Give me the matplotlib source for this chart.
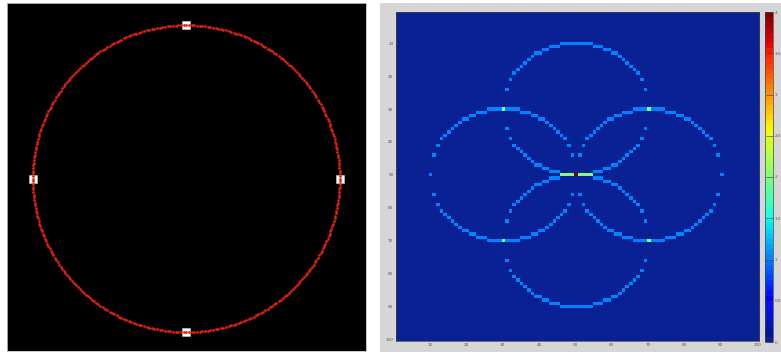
import numpy as np
import matplotlib
matplotlib.use("Agg")
import matplotlib.pyplot as plt
from matplotlib.colors import ListedColormap
from matplotlib.patches import Rectangle

# edge points found on the circle (column, row) and the search radius
edge_x = [50, 30, 70, 50]
edge_y = [30, 50, 50, 70]
radius = 20
grid_size = 100

cbar_ticks = [0, 0.5, 1, 1.5, 2, 2.5, 3, 3.5, 4]
axis_ticks = [10, 20, 30, 40, 50, 60, 70, 80, 90, 100]


def hough_circle(xs, ys, r, n):
    """Vote for circle centres: each edge point draws a ring of radius r"""
    acc = np.zeros((n, n))
    for px, py in zip(xs, ys):
        for a in range(px - r, px + r + 1):
            d = np.floor(np.sqrt(r ** 2 - (a - px) ** 2) + 0.5)
            for b in {int(py - d), int(py + d)}:
                if 1 <= a <= n and 1 <= b <= n:
                    acc[b - 1, a - 1] += 1
    return acc


acc = hough_circle(edge_x, edge_y, radius, grid_size)
row, col = np.unravel_index(np.argmax(acc), acc.shape)
cy, cx = row + 1, col + 1

W, H = 781, 354
fig = plt.figure(figsize=(W / 100, H / 100), dpi=100, facecolor="white")

# grey figure background behind the accumulator view
fig.patches.append(Rectangle((380 / W, 2 / H), 1 - 380 / W, 349 / H,
                             transform=fig.transFigure, facecolor="#d6d6d6",
                             edgecolor="none", zorder=-10))

# --- left: detected circle over the edge points ---
ax1 = fig.add_axes([7 / W, 3 / H, 359 / W, 348 / H])
ax1.set_facecolor("black")
ax1.plot(edge_x, edge_y, "s", color="white", markersize=5.4,
         markeredgecolor="#cccccc", markeredgewidth=0.4, zorder=2)
theta = np.deg2rad(np.arange(0, 360))
ax1.plot(cx + radius * np.cos(theta), cy + radius * np.sin(theta), "o",
         color="#e3230c", markersize=2.0, markeredgewidth=0, zorder=3)
ax1.set_xlim(26.64, 73.42)
ax1.set_ylim(72.45, 27.11)
ax1.set_xticks([])
ax1.set_yticks([])
for s in ax1.spines.values():
    s.set_color("#b8c0c8")
    s.set_linewidth(0.6)

# --- right: accumulator image ---
# 64-step jet, with the zero level a touch lighter like the screen render
jet = plt.get_cmap("jet", 64)(np.arange(64))
jet[0] = [0.04, 0.13, 0.59, 1.0]
jet[1:8, 1] += 0.08
cmap = ListedColormap(jet)

ax2 = fig.add_axes([395.5 / W, 13 / H, 363.5 / W, 329 / H])
im = ax2.imshow(acc, cmap=cmap, vmin=0, vmax=4, interpolation="nearest",
                extent=(0.5, grid_size + 0.5, grid_size + 0.5, 0.5), aspect="auto")
ax2.set_xticks(axis_ticks)
ax2.set_yticks(axis_ticks)
ax2.tick_params(direction="in", length=1.8, width=0.4, labelsize=3,
                labelcolor="#555555", color="#333333", pad=1.5,
                top=True, right=True)
for s in ax2.spines.values():
    s.set_color("#444444")
    s.set_linewidth(0.5)

cax = fig.add_axes([765 / W, 12 / H, 7.5 / W, 330 / H])
cb = fig.colorbar(im, cax=cax, ticks=cbar_ticks)
cb.ax.set_yticklabels([f"{t:g}" for t in cbar_ticks])
cb.ax.tick_params(direction="in", length=7.5 / 100 * 72, width=0.4,
                  labelsize=3, labelcolor="#555555", color="#333333", pad=1.5)
cb.outline.set_edgecolor("#444444")
cb.outline.set_linewidth(0.5)

fig.savefig("out.png", dpi=100, facecolor=fig.get_facecolor())
